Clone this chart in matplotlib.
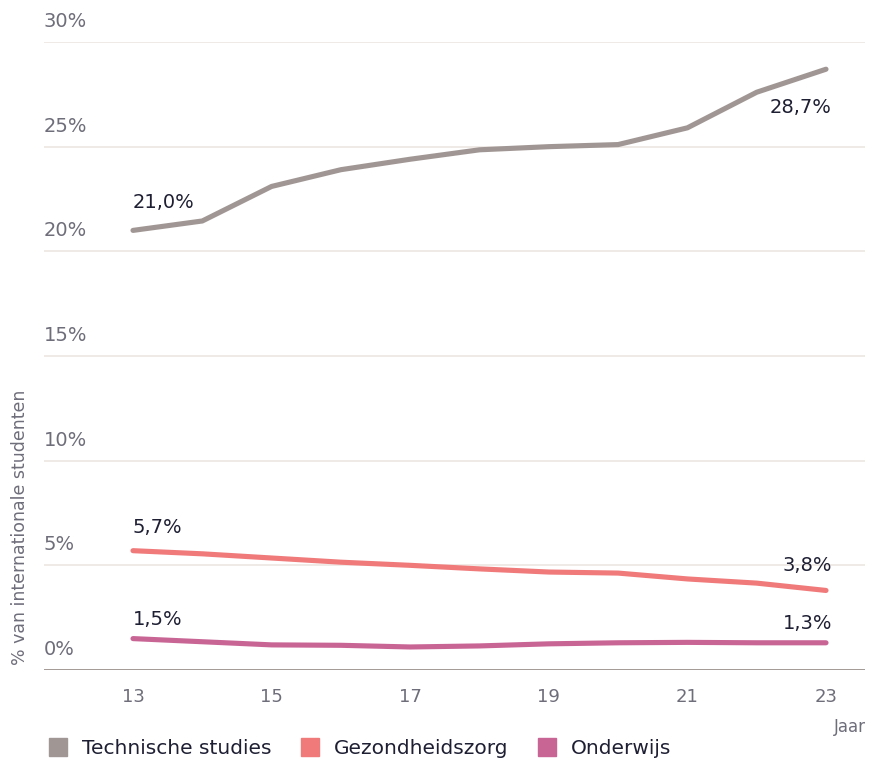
import numpy as np
import matplotlib.pyplot as plt
from matplotlib.lines import Line2D
from matplotlib.transforms import blended_transform_factory

plt.rcParams['font.family'] = ['DejaVu Sans']

years = [13, 14, 15, 16, 17, 18, 19, 20, 21, 22, 23]
technisch = [21.0, 21.45, 23.1, 23.9, 24.4, 24.85, 25.0, 25.1, 25.9, 27.6, 28.7]
gezondheid = [5.7, 5.55, 5.35, 5.15, 5.0, 4.83, 4.68, 4.63, 4.35, 4.15, 3.8]
onderwijs = [1.5, 1.35, 1.2, 1.18, 1.1, 1.15, 1.25, 1.3, 1.32, 1.3, 1.3]

names = ["Technische studies", "Gezondheidszorg", "Onderwijs"]
colors = ["#a09794", "#f07a7a", "#c96595"]
yticks = [0, 5, 10, 15, 20, 25, 30]
xticks = [13, 15, 17, 19, 21, 23]

tick_col = "#6e6d7a"
text_col = "#1e1f33"

fig = plt.figure(figsize=(8.7, 7.63), dpi=100)
ax = fig.add_axes([44/870, 1-670/763, (865-44)/870, (670-42)/763])
ax.set_xlim(13 - 89/69.3, 23 + 39/69.3)
ax.set_ylim(0, 30)

# grid + labels above the lines
tr = blended_transform_factory(ax.transAxes, ax.transData)
for v in yticks:
    if v == 0:
        ax.axhline(v, color="#a39a96", lw=1.4, zorder=1)
    else:
        ax.axhline(v, color="#efe8e5", lw=1.3, zorder=1)
    ax.annotate(f"{v}%", (0, v), xycoords=tr, xytext=(0, 15), textcoords="offset pixels",
                ha="left", va="baseline", fontsize=14, color=tick_col)

for vals, c in zip([technisch, gezondheid, onderwijs], colors):
    ax.plot(years, vals, color=c, lw=3.7, solid_capstyle="round", solid_joinstyle="round", zorder=3)

def lab(x, y, s, dx, dy, ha):
    ax.annotate(s, (x, y), xytext=(dx, dy), textcoords="offset pixels",
                ha=ha, va="baseline", fontsize=14, color=text_col)

lab(13, technisch[0], "21,0%", 0, 22, "left")
lab(23, technisch[-1], "28,7%", 6, -44, "right")
lab(13, gezondheid[0], "5,7%", 0, 18, "left")
lab(23, gezondheid[-1], "3,8%", 6, 19, "right")
lab(13, onderwijs[0], "1,5%", 0, 14, "left")
lab(23, onderwijs[-1], "1,3%", 6, 14, "right")

for s in ax.spines.values():
    s.set_visible(False)
ax.set_yticks([])
ax.set_xticks(xticks)
ax.set_xticklabels([str(x) for x in xticks], fontsize=13, color=tick_col)
ax.tick_params(axis="x", length=0, pad=13)

fig.text(20/870, 1-527/763, "% van internationale studenten", rotation=90,
         ha="center", va="center", fontsize=12.5, color=tick_col)
fig.text(866/870, 1-727/763, "Jaar", ha="right", va="center", fontsize=12, color=tick_col)

handles = [Line2D([], [], marker="s", ls="", markersize=13, color=c) for c in colors]
fig.legend(handles, names, loc="center left", bbox_to_anchor=(30/870, 1-749/763), ncol=3,
           frameon=False, fontsize=14.5, handletextpad=0.7, columnspacing=1.4,
           labelcolor=text_col, handlelength=1.0)

fig.savefig("out.png", dpi=100)
